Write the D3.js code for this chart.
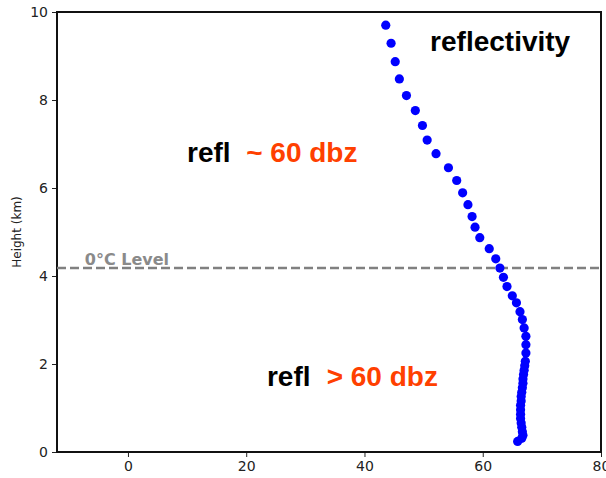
<!DOCTYPE html>
<html>
<head>
<meta charset="utf-8">
<script src="https://cdn.jsdelivr.net/npm/d3@7"></script>
<style>
  body { margin: 0; background: #fff; }
  svg { display: block; }
</style>
</head>
<body>
<svg id="chart" width="606" height="478"></svg>
<script>
// reflectivity profile (dBZ vs km)
const refl = [43.6, 44.5, 45.2, 45.9, 47.1, 48.6, 49.8, 50.6, 52.1, 54.2,
  55.6, 56.6, 57.5, 58.2, 58.7, 59.5, 61.1, 62.2, 62.9, 63.5,
  64.1, 65.0, 65.7, 66.3, 66.7, 67.0, 67.3, 67.3, 67.3, 67.2,
  67.1, 67.0, 66.9, 66.8, 66.8, 66.7, 66.6, 66.5, 66.5, 66.4,
  66.4, 66.4, 66.4, 66.5, 66.6, 66.7, 66.8, 66.6, 65.9];
const heights = [9.70, 9.29, 8.87, 8.48, 8.10, 7.76, 7.42, 7.09, 6.78, 6.46,
  6.17, 5.89, 5.62, 5.35, 5.11, 4.87, 4.62, 4.39, 4.18, 3.97,
  3.76, 3.55, 3.39, 3.19, 3.01, 2.82, 2.63, 2.44, 2.25, 2.06,
  1.96, 1.86, 1.76, 1.66, 1.56, 1.46, 1.36, 1.26, 1.16, 1.06,
  0.96, 0.86, 0.76, 0.66, 0.56, 0.46, 0.38, 0.31, 0.24];
const xTicks = [0, 20, 40, 60, 80];
const yTicks = [0, 2, 4, 6, 8, 10];
const freezingLevel = 4.18;
const freezingLabel = '0°C Level';
const yLabel = 'Height (km)';

const dims = {width: 606, height: 478, marginLeft: 57, marginRight: 5, marginTop: 12, marginBottom: 26};

const svg = d3.select('#chart');

const xScale = d3.scaleLinear()
                 .domain([-12, 80])
                 .range([dims.marginLeft, dims.width - dims.marginRight]);
const yScale = d3.scaleLinear()
                 .domain([0, 10])
                 .range([dims.height - dims.marginBottom, dims.marginTop]);

// axes
const xAxisGroup = svg.append('g')
  .attr('transform', `translate(0,${dims.height - dims.marginBottom})`)
  .call(d3.axisBottom(xScale).tickValues(xTicks).tickSize(5).tickPadding(4));
const yAxisGroup = svg.append('g')
  .attr('transform', `translate(${dims.marginLeft},0)`)
  .call(d3.axisLeft(yScale).tickValues(yTicks).tickSize(5).tickPadding(4));

[xAxisGroup, yAxisGroup].forEach(g => {
  g.select('.domain').remove();
  g.selectAll('line').attr('stroke', '#222').attr('stroke-width', 1);
  g.selectAll('text')
   .attr('fill', '#222')
   .attr('font-family', 'DejaVu Sans')
   .attr('font-size', 14);
});

// frame
svg.append('rect')
  .attr('x', xScale(-12))
  .attr('y', yScale(10))
  .attr('width', xScale(80) - xScale(-12))
  .attr('height', yScale(0) - yScale(10))
  .attr('fill', 'none')
  .attr('stroke', '#111')
  .attr('stroke-width', 2);

svg.append('text')
  .attr('transform', `translate(21,${(yScale(0) + yScale(10)) / 2}) rotate(-90)`)
  .attr('text-anchor', 'middle')
  .attr('font-family', 'DejaVu Sans')
  .attr('font-size', 12)
  .attr('fill', '#222')
  .text(yLabel);

// freezing level
svg.append('line')
  .attr('x1', xScale(-12))
  .attr('x2', xScale(80))
  .attr('y1', yScale(freezingLevel))
  .attr('y2', yScale(freezingLevel))
  .attr('stroke', '#808080')
  .attr('stroke-width', 2.5)
  .attr('stroke-dasharray', '9,4');

svg.append('text')
  .attr('x', xScale(-7.3))
  .attr('y', yScale(freezingLevel) - 3.5)
  .attr('font-family', 'DejaVu Sans')
  .attr('font-weight', 'bold')
  .attr('font-size', 16)
  .attr('fill', '#8a8a8a')
  .text(freezingLabel);

// profile points
svg.selectAll('.pt')
  .data(refl.map((v, i) => ({refl: v, h: heights[i]})))
  .enter()
  .append('circle')
  .attr('class', 'pt')
  .attr('cx', d => xScale(d.refl))
  .attr('cy', d => yScale(d.h))
  .attr('r', 4.6)
  .attr('fill', '#0000ff');

// annotations
const notes = [
  {x: 51.1, y: 9.12, text: 'reflectivity', color: '#000'},
  {x: 10.0, y: 6.6, text: 'refl', color: '#000'},
  {x: 20.0, y: 6.6, text: '~ 60 dbz', color: '#ff4000'},
  {x: 23.5, y: 1.49, text: 'refl', color: '#000'},
  {x: 33.6, y: 1.49, text: '> 60 dbz', color: '#ff4000'}
];
svg.selectAll('.note')
  .data(notes)
  .enter()
  .append('text')
  .attr('class', 'note')
  .attr('x', d => xScale(d.x))
  .attr('y', d => yScale(d.y))
  .attr('font-family', 'Liberation Sans, Arial, sans-serif')
  .attr('font-weight', 'bold')
  .attr('font-size', 28)
  .attr('fill', d => d.color)
  .text(d => d.text);
</script>
</body>
</html>
